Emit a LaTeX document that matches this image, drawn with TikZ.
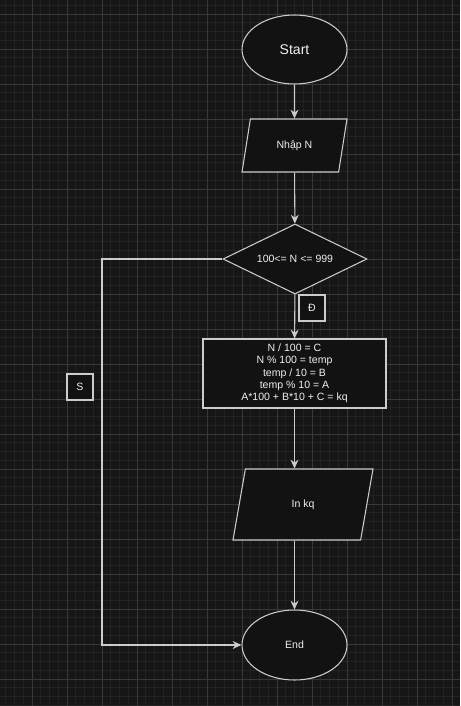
\documentclass[tikz,border=0pt]{standalone}
\usepackage{fontspec}
\setsansfont{Liberation Sans}
\usetikzlibrary{shapes.geometric,arrows.meta}

\definecolor{bgcol}{HTML}{161616}
\definecolor{minorcol}{HTML}{222222}
\definecolor{majorcol}{HTML}{383838}
\definecolor{linecol}{HTML}{CCCCCC}
\definecolor{boxcol}{HTML}{121212}
\definecolor{textcol}{HTML}{F0F0F0}

\begin{document}
\begin{tikzpicture}[x=0.02cm, y=-0.02cm]
% Define styles
\tikzset{
    block/.style={draw=linecol, fill=boxcol, line width=0.6pt, text=textcol, inner sep=0pt,
        font=\sffamily\fontsize{6.0}{7}\selectfont},
    terminal/.style={block, ellipse, minimum width=2.1cm, minimum height=1.38cm},
    io/.style={block, trapezium, trapezium stretches=true},
    decision/.style={block, diamond, aspect=2.06, minimum width=2.88cm, minimum height=1.4cm},
    process/.style={block, rectangle, align=center, minimum width=3.66cm, minimum height=1.38cm},
    tag/.style={block, rectangle, minimum size=0.52cm},
    flow/.style={draw=linecol, line width=0.6pt, -{Stealth[length=5pt, width=4.5pt]}}
}

% Background
\fill[bgcol] (0,0) rectangle (460,706);
\useasboundingbox (0,0) rectangle (460,706);

% Minor grid lines
\foreach \i in {0,...,52} {
    \draw[minorcol, line width=0.4pt] ({-3+\i*8.75},0) -- ({-3+\i*8.75},706);
}
\foreach \i in {0,...,81} {
    \draw[minorcol, line width=0.4pt] (0,{-3.5+\i*8.75}) -- (460,{-3.5+\i*8.75});
}

% Major grid lines
\foreach \i in {0,...,13} {
    \draw[majorcol, line width=0.5pt] ({-3+\i*35},0) -- ({-3+\i*35},706);
}
\foreach \i in {0,...,19} {
    \draw[majorcol, line width=0.5pt] (0,{14+\i*35}) -- (460,{14+\i*35});
}

% Shapes
\node[terminal, font=\sffamily\fontsize{8.0}{9}\selectfont] (start) at (294.5, 49.5) {Start};
\node[io, minimum width=2.1cm, minimum height=1.06cm,
    trapezium left angle=71, trapezium right angle=109] (input) at (294.5, 145.5) {Nhập N};
\node[decision] (cond) at (295, 259) {100<= N <= 999};
\node[process] (calc) at (294.5, 373.5) {N / 100 = C\\N \% 100 = temp\\temp / 10 = B\\temp \% 10 = A\\A*100 + B*10 + C = kq};
\node[io, minimum width=2.8cm, minimum height=1.42cm,
    trapezium left angle=76, trapezium right angle=104] (output) at (303, 504.5) {In kq};
\node[terminal, minimum height=1.4cm] (stop) at (294.5, 645) {End};

% Branch labels
\node[tag] (yes) at (312, 308) {Đ};
\node[tag] (no) at (80, 387) {S};

% Connectors
\coordinate (sbend) at (102, 259);
\draw[flow] (start) -- (input);
\draw[flow] (input) -- (cond);
\draw[flow] (cond) -- (calc);
\draw[flow] (calc.south) -- (output.north -| calc.south);
\draw[flow] (output.south -| stop.north) -- (stop.north);
\draw[flow] (cond.west) -- (sbend) |- (stop.west);

\end{tikzpicture}
\end{document}
